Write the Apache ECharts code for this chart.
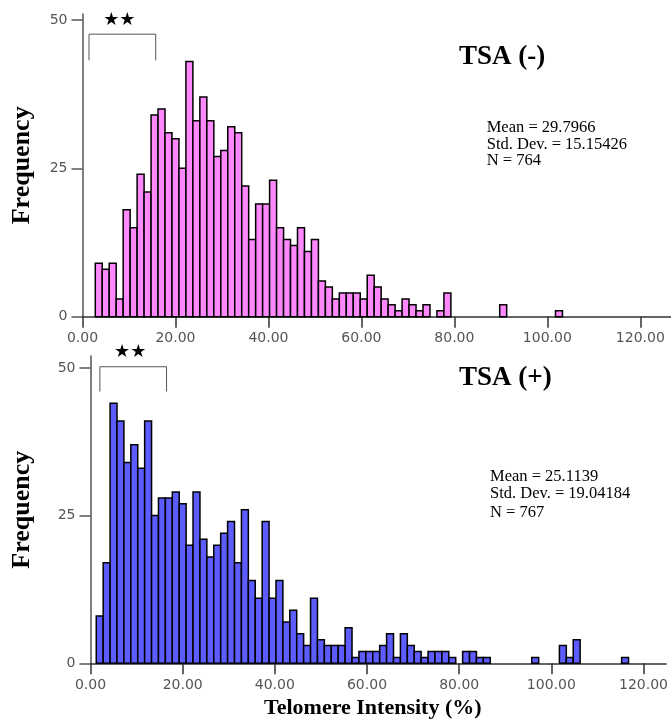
<!DOCTYPE html>
<html><head><meta charset="utf-8">
<script src="https://cdn.jsdelivr.net/npm/echarts@6/dist/echarts.min.js"></script>
<style>html,body{margin:0;padding:0;background:#fff}#c{width:671px;height:724px}</style>
</head><body><div id="c"></div>
<script>
// Histogram bins (shared grid): start and width in % units
const binStart = 1.25;
const binWidth = 1.5;
// TSA (-) counts per bin
const topCounts = [0,
  9, 8, 9, 3, 18, 15, 24, 21, 34, 35, 31, 30, 25, 43, 33, 37, 33, 27, 28, 32,
  31, 22, 13, 19, 19, 23, 15, 13, 12, 15, 11, 13, 6, 5, 3, 4, 4, 4, 3, 7,
  5, 3, 2, 1, 3, 2, 1, 2, 0, 1, 4,
  0, 0, 0, 0, 0, 0, 0, 2, 0, 0, 0, 0, 0, 0, 0, 1];
// TSA (+) counts per bin
const bottomCounts = [
  8, 17, 44, 41, 34, 37, 33, 41, 25, 28, 28, 29, 27, 20, 29, 21, 18, 20, 22, 24,
  17, 26, 14, 11, 24, 11, 14, 7, 9, 5, 3, 11, 4, 3, 3, 3, 6, 1, 2, 2,
  2, 3, 5, 1, 5, 3, 2, 1, 2, 2, 2, 1, 0, 2, 2, 1, 1,
  0, 0, 0, 0, 0, 0, 1, 0, 0, 0, 3, 1, 4, 0, 0, 0, 0, 0, 0, 1];
const xTicks = [0, 20, 40, 60, 80, 100, 120];
const yTicks = [0, 25, 50];
const topTitle = 'TSA (-)';
const bottomTitle = 'TSA (+)';
const topStats = ['Mean = 29.7966', 'Std. Dev. = 15.15426', 'N = 764'];
const bottomStats = ['Mean = 25.1139', 'Std. Dev. = 19.04184', 'N = 767'];
const topBracket = [1.4, 15.75, 47.6, 43.2];
const bottomBracket = [2.04, 16.5, 50.2, 46.0];
const starText = '★★';
const xTitle = 'Telomere Intensity (%)';
const yTitle = 'Frequency';

function toBins(counts) {
  return counts.map((c, i) => [binStart + i * binWidth, binStart + (i + 1) * binWidth, c]);
}

const chart = echarts.init(document.getElementById('c'), null, {renderer: 'canvas'});

function barSeries(idx, counts, fill) {
  return {
    type: 'custom', xAxisIndex: idx, yAxisIndex: idx,
    encode: {x: [0, 1], y: 2},
    data: toBins(counts),
    renderItem: function (params, api) {
      const c = api.value(2);
      if (!c) return null;
      const p0 = api.coord([api.value(0), c]);
      const p1 = api.coord([api.value(1), 0]);
      return {type: 'rect', shape: {x: p0[0], y: p0[1], width: p1[0] - p0[0], height: p1[1] - p0[1]},
        style: {fill: fill, stroke: '#000', lineWidth: 1.5}};
    }
  };
}
function bracketSeries(idx, br) {
  return {
    type: 'custom', xAxisIndex: idx, yAxisIndex: idx, clip: false,
    encode: {x: [0, 1], y: [2, 3]},
    data: [br],
    renderItem: function (params, api) {
      const pL = api.coord([api.value(0), api.value(2)]);
      const pR = api.coord([api.value(1), api.value(2)]);
      const leg = api.coord([api.value(0), api.value(3)]);
      return {type: 'group', children: [
        {type: 'polyline', shape: {points: [[pL[0], leg[1]], pL, pR, [pR[0], leg[1]]]},
          style: {stroke: '#555', lineWidth: 1, fill: null}},
        {type: 'text', style: {text: starText, x: (pL[0] + pR[0]) / 2 - 3, y: pL[1] - 14,
          align: 'center', verticalAlign: 'middle', font: '18px "DejaVu Sans"', fill: '#000'}}
      ]};
    }
  };
}
function xAxisCfg(idx, max, withName) {
  const a = {
    gridIndex: idx, type: 'value', min: 0, max: max,
    axisLine: {show: true, onZero: false, lineStyle: {color: '#333', width: 1.5}},
    axisTick: {show: true, length: 11, customValues: xTicks, lineStyle: {color: '#333', width: 1.5}},
    axisLabel: {customValues: xTicks, formatter: v => v.toFixed(2), margin: 15, color: '#555',
      fontFamily: 'DejaVu Sans', fontSize: 14},
    splitLine: {show: false}
  };
  if (withName) {
    a.name = xTitle; a.nameLocation = 'middle'; a.nameGap = 34;
    a.nameTextStyle = {fontFamily: 'Liberation Serif', fontWeight: 'bold', fontSize: 22, color: '#000',
      padding: [0, 11, 0, 0]};
  }
  return a;
}
function yAxisCfg(idx, max, gap) {
  return {
    gridIndex: idx, type: 'value', min: 0, max: max,
    axisLine: {show: true, onZero: false, lineStyle: {color: '#555', width: 1.5}},
    axisTick: {show: true, length: 11, customValues: yTicks, lineStyle: {color: '#555', width: 1.5}},
    axisLabel: {customValues: yTicks, margin: 15, color: '#555', fontFamily: 'DejaVu Sans', fontSize: 14},
    splitLine: {show: false},
    name: yTitle, nameLocation: 'middle', nameGap: gap,
    nameTextStyle: {fontFamily: 'Liberation Serif', fontWeight: 'bold', fontSize: 26, color: '#000'}
  };
}
function txt(x, y, s, font) {
  return {type: 'text', x: x, y: y, silent: true,
    style: {text: s, font: font, fill: '#000', align: 'left', verticalAlign: 'middle'}};
}
const statFont = '16.5px "Liberation Serif"';
const titleFont = 'bold 27px "Liberation Serif"';

chart.setOption({
  animation: false,
  grid: [
    {left: 82.5, top: 14, width: 588.5, height: 302.7},
    {left: 90.5, top: 356.1, width: 580.5, height: 307.2}
  ],
  xAxis: [xAxisCfg(0, 126.6, false), xAxisCfg(1, 124.9, true)],
  yAxis: [yAxisCfg(0, 51, 47), yAxisCfg(1, 52, 55)],
  series: [
    barSeries(0, topCounts, '#ff88ff'),
    barSeries(1, bottomCounts, '#5c5cff'),
    bracketSeries(0, topBracket),
    bracketSeries(1, bottomBracket)
  ],
  graphic: [
    txt(459, 57, topTitle, titleFont),
    txt(459, 378, bottomTitle, titleFont),
    txt(486.7, 127.3, topStats[0], statFont),
    txt(486.7, 144.6, topStats[1], statFont),
    txt(486.7, 160.6, topStats[2], statFont),
    txt(490, 476.3, bottomStats[0], statFont),
    txt(490, 493.9, bottomStats[1], statFont),
    txt(490, 512.9, bottomStats[2], statFont)
  ]
});
</script>
</body></html>
